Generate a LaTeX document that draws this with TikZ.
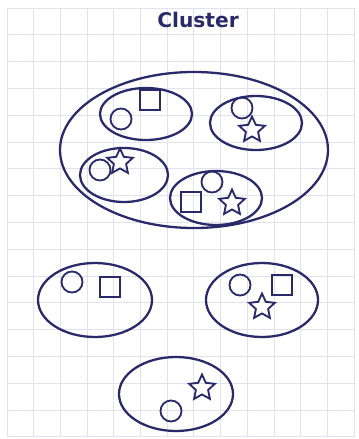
\documentclass[tikz,border=0pt]{standalone}
\usepackage{fontspec}
\newfontfamily\titlefont{DejaVu Sans}
\usetikzlibrary{shapes.geometric}
\definecolor{ink}{HTML}{2A2A68}
\definecolor{gridline}{HTML}{E2E2EF}
\tikzset{
  blob/.style={draw=ink,line width=1.3pt},
  ring/.style={circle,draw=ink,line width=1.05pt,minimum size=0.42cm,inner sep=0pt},
  box/.style={rectangle,draw=ink,line width=1.05pt,minimum size=0.41cm,inner sep=0pt},
  starmark/.style={star,star points=5,star point ratio=2.1,draw=ink,line width=1.05pt,minimum size=0.54cm,inner sep=0pt}
}

\begin{document}
\begin{tikzpicture}[x=0.02cm,y=-0.02cm]
\useasboundingbox (0,0) rectangle (358,439);
\fill[white] (0,0) rectangle (358,439);
% grid paper
\foreach \k in {0,...,13}
  \draw[gridline,line width=0.55pt] (7+26.7*\k,8)--(7+26.7*\k,437);
\foreach \k in {0,...,16}
  \draw[gridline,line width=0.55pt] (7,8+26.8*\k)--(354,8+26.8*\k);
\node[anchor=base,text=ink,font=\titlefont\bfseries\fontsize{11.5}{13}\selectfont] (title) at (198,28) {Cluster};
% clusters
\foreach \x/\y/\a/\b in {194/150/134/78,146/114/46/26,256/123/46/27,124/175/44/27,
  216/198/46/27,95/300/57/37,262/300/56/37,176/394/57/37}
  \draw[blob] (\x,\y) ellipse [x radius=\a*0.02cm, y radius=\b*0.02cm];
\foreach \x/\y/\name in {121/119/c1,242/108/c2,100/170/c3,212/182/c4,72/282/c5,240/285/c6,171/411/c7}
  \node[ring] (\name) at (\x,\y) {};
\foreach \x/\y/\name in {150/100/s1,191/202/s2,110/287/s3,282/285/s4}
  \node[box] (\name) at (\x,\y) {};
\foreach \x/\y/\name in {252/130/t1,120/162/t2,232/203/t3,262/307/t4,202/388/t5}
  \node[starmark] (\name) at (\x,\y) {};
\end{tikzpicture}
\end{document}
